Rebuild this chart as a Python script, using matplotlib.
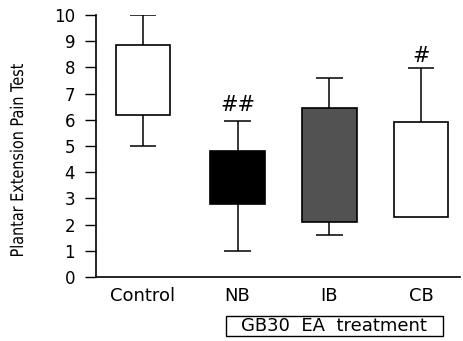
import matplotlib
matplotlib.use("Agg")
import matplotlib.pyplot as plt
from matplotlib.textpath import TextPath
from matplotlib.patches import PathPatch, Rectangle
from matplotlib.font_manager import FontProperties
from matplotlib.transforms import Affine2D, IdentityTransform

groups = ["Control", "NB", "IB", "CB"]
box_low = [6.2, 2.8, 2.1, 2.3]
box_high = [8.85, 4.8, 6.45, 5.9]
whisker_low = [5.0, 1.0, 1.6, None]
whisker_high = [10.0, 5.95, 7.6, 7.98]
box_colors = ["white", "black", "#525252", "white"]
marks = ["", "##", "", "#"]
mark_y = [0, 6.55, 0, 8.45]
ylabel = "Plantar Extension Pain Test"
group_label = "GB30  EA  treatment"

plt.rcParams["font.family"] = ["DejaVu Sans"]

W, H = 463, 341
fig = plt.figure(figsize=(W / 100, H / 100), dpi=100)
ax = fig.add_axes([0.2073, 0.1877, 0.7862, 0.7683])

pos = [0, 1.02, 2.01, 3.0]
width = 0.59
cap = 0.29

for i in range(len(groups)):
    x = pos[i]
    ax.bar(x, box_high[i] - box_low[i], bottom=box_low[i], width=width,
           color=box_colors[i], edgecolor="black", linewidth=1.2, zorder=3)
    ax.vlines(x, box_high[i], whisker_high[i], color="black", lw=1.1, zorder=2)
    ax.hlines(whisker_high[i], x - cap / 2, x + cap / 2, color="black", lw=1.1)
    if whisker_low[i] is not None:
        ax.vlines(x, whisker_low[i], box_low[i], color="black", lw=1.1, zorder=2)
        ax.hlines(whisker_low[i], x - cap / 2, x + cap / 2, color="black", lw=1.1)
    if marks[i]:
        ax.text(x, mark_y[i], marks[i], ha="center", va="center", fontsize=15)

ax.set_xlim(-0.507, 3.42)
ax.set_ylim(0, 10)
ax.set_yticks(range(0, 11))
ax.set_xticks(pos)
ax.set_xticklabels(groups, fontsize=13)
ax.tick_params(axis="x", length=0, pad=7)
ax.tick_params(axis="y", labelsize=12, length=8, width=1, pad=7, direction="out")
for s in ["top", "right"]:
    ax.spines[s].set_visible(False)
ax.spines["left"].set_linewidth(1.2)
ax.spines["bottom"].set_linewidth(1.2)

# condensed y label: squeeze a text path along its length, then turn it upright
tp = TextPath((0, 0), ylabel, size=17.5, prop=FontProperties(family="DejaVu Sans"))
ext = tp.get_extents()
sx = 192 / ext.width
tr = Affine2D().translate(-ext.x0, 0).scale(sx, 1).rotate_deg(90).translate(23, H - 256)
fig.patches.append(PathPatch(tr.transform_path(tp), facecolor="black", edgecolor="none",
                             transform=IdentityTransform(), figure=fig))

fig.text(334 / W, 1 - 326 / H, group_label, ha="center", va="center", fontsize=13)
fig.patches.append(Rectangle((226 / W, 1 - 336 / H), 217 / W, 20 / H, transform=fig.transFigure,
                             facecolor="none", edgecolor="black", lw=1, figure=fig))

fig.savefig("out.png", dpi=100)
